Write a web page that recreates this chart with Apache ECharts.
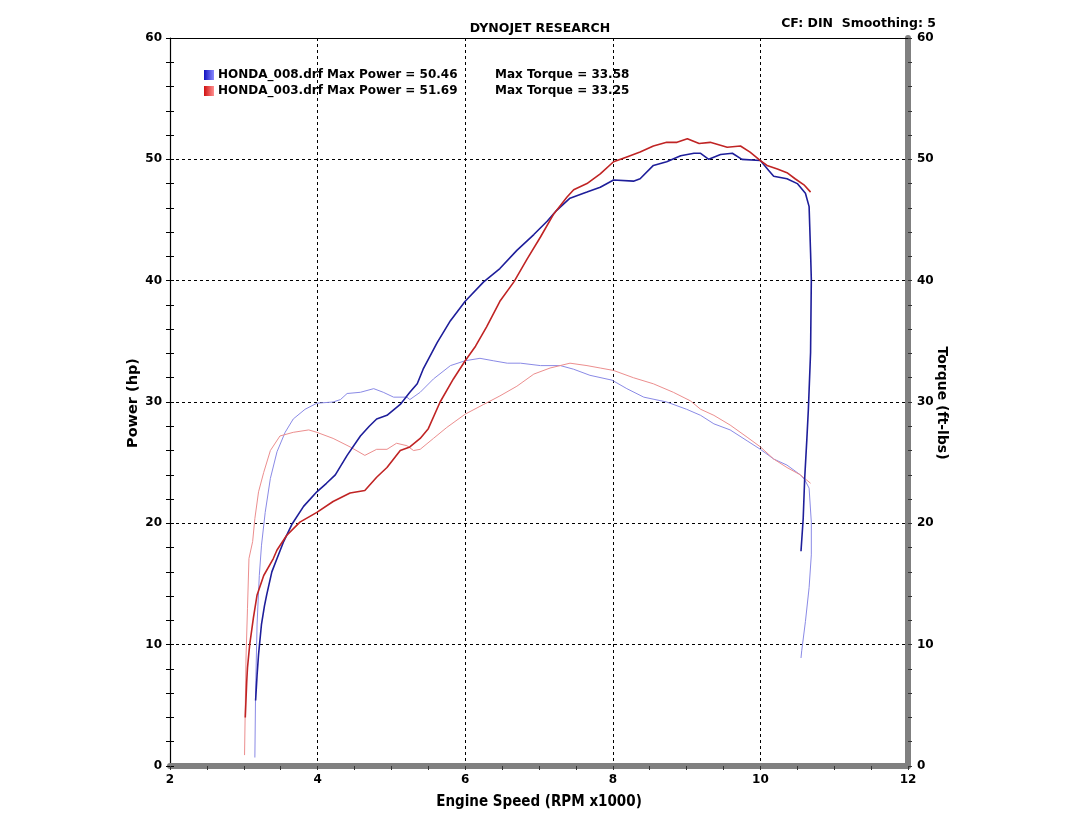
<!DOCTYPE html>
<html>
<head>
<meta charset="utf-8">
<script src="https://cdn.jsdelivr.net/npm/echarts@6/dist/echarts.min.js"></script>
<style>html,body{margin:0;padding:0;background:#fff}#c{width:1080px;height:815px}</style>
</head>
<body>
<div id="c"></div>
<script>
// ---- data (rpm x1000, value) ----
const power008 = [[3.16,5.4],[3.18,7.5],[3.20,9.2],[3.24,11.7],[3.28,13.2],[3.31,14.1],[3.38,16.0],[3.45,17.1],[3.54,18.5],[3.65,19.9],[3.81,21.4],[3.99,22.6],[4.12,23.3],[4.24,24.0],[4.40,25.6],[4.58,27.2],[4.70,28.0],[4.80,28.6],[4.94,28.9],[5.12,29.8],[5.25,30.8],[5.35,31.5],[5.43,32.7],[5.62,34.9],[5.80,36.7],[6.00,38.3],[6.25,39.9],[6.47,41.0],[6.70,42.5],[6.93,43.8],[7.11,44.9],[7.24,45.8],[7.42,46.8],[7.65,47.3],[7.83,47.7],[8.01,48.3],[8.28,48.2],[8.37,48.4],[8.55,49.5],[8.73,49.8],[8.92,50.3],[9.10,50.5],[9.19,50.5],[9.30,50.0],[9.46,50.4],[9.62,50.5],[9.75,50.0],[10.00,49.9],[10.11,49.1],[10.18,48.6],[10.27,48.5],[10.36,48.4],[10.50,48.0],[10.61,47.2],[10.66,46.1],[10.68,42.3],[10.69,40.1],[10.68,34.1],[10.65,29.4],[10.63,27.0],[10.60,23.7],[10.58,20.4],[10.55,17.7]];
const power003 = [[3.02,4.0],[3.04,7.0],[3.05,8.1],[3.08,10.0],[3.13,12.2],[3.18,14.1],[3.27,15.7],[3.40,17.1],[3.45,17.8],[3.58,19.0],[3.76,20.1],[3.99,20.9],[4.21,21.8],[4.44,22.5],[4.64,22.7],[4.80,23.8],[4.94,24.6],[5.12,26.0],[5.25,26.3],[5.39,27.0],[5.50,27.8],[5.66,30.0],[5.84,31.9],[6.00,33.4],[6.14,34.6],[6.29,36.2],[6.47,38.3],[6.66,39.9],[6.84,41.8],[7.02,43.6],[7.20,45.5],[7.38,46.9],[7.47,47.5],[7.65,48.0],[7.83,48.8],[8.01,49.8],[8.19,50.2],[8.37,50.6],[8.55,51.1],[8.73,51.4],[8.87,51.4],[9.01,51.7],[9.17,51.3],[9.32,51.4],[9.55,51.0],[9.73,51.1],[9.86,50.6],[10.00,49.9],[10.09,49.5],[10.23,49.2],[10.36,48.9],[10.47,48.4],[10.59,47.9],[10.68,47.3]];
const torque008 = [[3.15,0.7],[3.16,6.2],[3.18,11.7],[3.21,15.7],[3.24,18.2],[3.29,20.9],[3.36,23.7],[3.45,25.9],[3.56,27.5],[3.67,28.6],[3.83,29.4],[3.99,29.9],[4.21,30.0],[4.31,30.2],[4.40,30.7],[4.58,30.8],[4.76,31.1],[4.89,30.8],[5.03,30.4],[5.21,30.4],[5.25,30.2],[5.39,30.8],[5.57,31.9],[5.80,33.0],[6.00,33.4],[6.20,33.6],[6.38,33.4],[6.57,33.2],[6.75,33.2],[7.02,33.0],[7.29,33.0],[7.47,32.7],[7.69,32.2],[7.99,31.8],[8.19,31.1],[8.42,30.4],[8.73,30.0],[9.00,29.4],[9.19,28.9],[9.37,28.2],[9.59,27.7],[9.82,26.8],[10.00,26.1],[10.18,25.3],[10.36,24.8],[10.54,24.0],[10.60,23.6],[10.66,22.9],[10.69,20.1],[10.69,17.4],[10.66,14.7],[10.61,11.9],[10.56,9.5],[10.55,8.9]];
const torque003 = [[3.01,0.9],[3.02,4.8],[3.03,8.9],[3.05,13.0],[3.07,17.1],[3.12,18.5],[3.15,20.4],[3.20,22.6],[3.27,24.2],[3.36,26.0],[3.49,27.2],[3.67,27.5],[3.88,27.7],[3.99,27.5],[4.21,27.0],[4.44,26.3],[4.64,25.6],[4.80,26.1],[4.94,26.1],[5.07,26.6],[5.21,26.4],[5.30,26.0],[5.39,26.1],[5.57,27.0],[5.75,27.9],[6.00,29.0],[6.25,29.8],[6.47,30.5],[6.70,31.3],[6.93,32.3],[7.15,32.8],[7.42,33.2],[7.65,33.0],[7.83,32.8],[8.01,32.6],[8.28,32.0],[8.55,31.5],[8.82,30.8],[9.05,30.1],[9.19,29.4],[9.37,28.9],[9.59,28.1],[9.82,27.1],[10.00,26.3],[10.18,25.3],[10.36,24.6],[10.54,24.0],[10.68,23.3]];

const runNames = ['HONDA_008.drf', 'HONDA_003.drf'];
const maxPowerLabels = ['50.46', '51.69'];
const maxTorqueLabels = ['33.58', '33.25'];
const titleText = 'DYNOJET RESEARCH';
const infoText = 'CF: DIN  Smoothing: 5';
const xName = 'Engine Speed (RPM x1000)';
const yLeftName = 'Power (hp)';
const yRightName = 'Torque (ft-lbs)';

const FONT = '"DejaVu Sans", Verdana, sans-serif';
const chart = echarts.init(document.getElementById('c'), null, {renderer: 'canvas'});

function grad(c1, c2) {
  return new echarts.graphic.LinearGradient(0, 0, 1, 0, [{offset: 0, color: c1}, {offset: 1, color: c2}]);
}

const baseTickLabel = {fontFamily: FONT, fontWeight: 'bold', fontSize: 12, color: '#000'};

chart.setOption({
  animation: false,
  backgroundColor: '#fff',
  title: [
    {text: titleText, left: 'center', top: 17, textStyle: {fontFamily: FONT, fontWeight: 'bold', fontSize: 12.5, color: '#000'}},
    {text: infoText, right: 139, top: 12, textStyle: {fontFamily: FONT, fontWeight: 'bold', fontSize: 12.5, color: '#000'}}
  ],
  graphic: [
    {type: 'text', x: 133, y: 403, rotation: Math.PI / 2, silent: true,
      style: {text: yLeftName, align: 'center', verticalAlign: 'middle', fill: '#000',
        font: 'bold 14.5px "DejaVu Sans", Verdana, sans-serif'}},
    {type: 'text', x: 942, y: 403, rotation: -Math.PI / 2, silent: true,
      style: {text: yRightName, align: 'center', verticalAlign: 'middle', fill: '#000',
        font: 'bold 14px "DejaVu Sans", Verdana, sans-serif'}}
  ],
  legend: {
    data: runNames,
    orient: 'vertical',
    left: 204, top: 69, padding: 0,
    itemWidth: 10, itemHeight: 10, itemGap: 4,
    icon: 'rect',
    selectedMode: false,
    formatter: function (name) {
      const i = runNames.indexOf(name);
      return '{a|' + name + ' Max Power = ' + maxPowerLabels[i] + '}{b|Max Torque = ' + maxTorqueLabels[i] + '}';
    },
    textStyle: {
      fontFamily: FONT, fontWeight: 'bold', fontSize: 12, color: '#000', padding: [0, 0, 0, -1],
      rich: {
        a: {fontFamily: FONT, fontWeight: 'bold', fontSize: 12, color: '#000', width: 277},
        b: {fontFamily: FONT, fontWeight: 'bold', fontSize: 12, color: '#000'}
      }
    }
  },
  grid: {left: 170, right: 172, top: 38, bottom: 46, show: false},
  xAxis: [
    {
      type: 'value', min: 2, max: 12, interval: 2, position: 'bottom',
      name: xName, nameLocation: 'middle', nameGap: 29,
      nameTextStyle: {fontFamily: '"DejaVu Sans Condensed", "DejaVu Sans", sans-serif', fontWeight: 'bold', fontSize: 15, color: '#000'},
      axisLine: {show: true, onZero: false, lineStyle: {color: '#808080', width: 6}},
      axisTick: {show: true, length: 4, lineStyle: {color: '#333', width: 1}},
      minorTick: {show: true, splitNumber: 4, length: 4, lineStyle: {color: '#333', width: 1}},
      axisLabel: Object.assign({margin: 8}, baseTickLabel),
      splitLine: {show: true, showMinLine: false, showMaxLine: false, lineStyle: {color: '#000', type: [3, 3], width: 1}}
    },
    {
      type: 'value', min: 2, max: 12, position: 'top',
      axisLine: {show: true, onZero: false, lineStyle: {color: '#000', width: 1.2}},
      axisTick: {show: false}, axisLabel: {show: false}, splitLine: {show: false}
    }
  ],
  yAxis: [
    {
      type: 'value', min: 0, max: 60, interval: 10, position: 'left',
      axisLine: {show: true, onZero: false, lineStyle: {color: '#000', width: 1.2}},
      axisTick: {show: true, length: 4, lineStyle: {color: '#000'}},
      minorTick: {show: true, splitNumber: 5, length: 4, lineStyle: {color: '#000'}},
      axisLabel: Object.assign({margin: 8}, baseTickLabel),
      splitLine: {show: true, showMinLine: false, showMaxLine: false, lineStyle: {color: '#000', type: [3, 3], width: 1}}
    },
    {
      type: 'value', min: 0, max: 60, interval: 10, position: 'right',
      axisLine: {show: true, onZero: false, lineStyle: {color: '#808080', width: 6}},
      axisTick: {show: true, length: 4, lineStyle: {color: '#333'}},
      minorTick: {show: true, splitNumber: 5, length: 4, lineStyle: {color: '#333'}},
      axisLabel: Object.assign({margin: 9}, baseTickLabel),
      splitLine: {show: false}
    },
    {
      type: 'value', min: 0, max: 60, interval: 10, position: 'left', offset: 0,
      axisLine: {show: false},
      axisTick: {show: true, inside: true, length: 4, lineStyle: {color: '#000'}},
      minorTick: {show: true, splitNumber: 5, length: 4, lineStyle: {color: '#000'}},
      axisLabel: {show: false}, splitLine: {show: false}
    }
  ],
  series: [
    {name: runNames[0], type: 'line', data: power008, yAxisIndex: 0, showSymbol: false, z: 4,
      itemStyle: {color: grad('#1010c0', '#8a8aff')}, lineStyle: {color: '#1e1e9a', width: 1.6}},
    {name: runNames[1], type: 'line', data: power003, yAxisIndex: 0, showSymbol: false, z: 4,
      itemStyle: {color: grad('#d01010', '#ff9090')}, lineStyle: {color: '#c02424', width: 1.6}},
    {name: runNames[0] + ' torque', type: 'line', data: torque008, yAxisIndex: 1, showSymbol: false, z: 3,
      itemStyle: {color: '#8a8ae6'}, lineStyle: {color: '#8a8ae6', width: 1}},
    {name: runNames[1] + ' torque', type: 'line', data: torque003, yAxisIndex: 1, showSymbol: false, z: 3,
      itemStyle: {color: '#ec8e8e'}, lineStyle: {color: '#ec8e8e', width: 1}}
  ]
});
</script>
</body>
</html>
